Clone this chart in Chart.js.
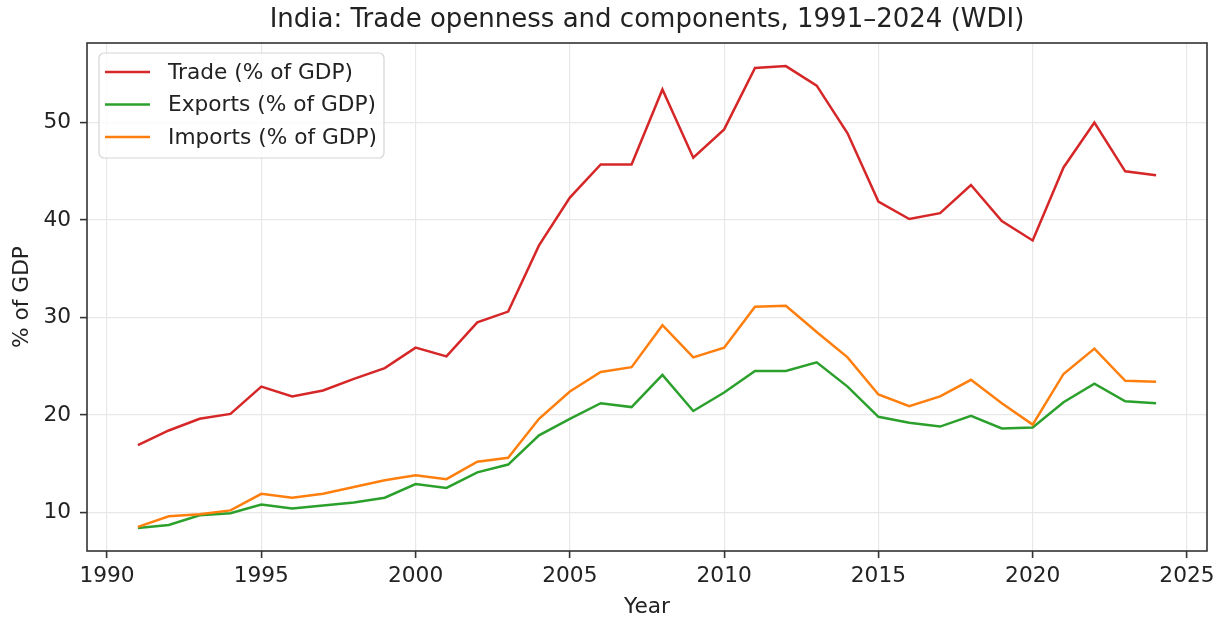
<!DOCTYPE html>
<html>
<head>
<meta charset="utf-8">
<script src="https://cdn.jsdelivr.net/npm/chart.js@4.4.1/dist/chart.umd.min.js"></script>
<style>
  html, body { margin: 0; padding: 0; background: #fff; }
  #wrap { width: 1223px; height: 621px; }
</style>
</head>
<body>
<div id="wrap"><canvas id="chart"></canvas></div>
<script>
// data (% of GDP)
const years = [1991, 1992, 1993, 1994, 1995, 1996, 1997, 1998, 1999, 2000,
               2001, 2002, 2003, 2004, 2005, 2006, 2007, 2008, 2009, 2010,
               2011, 2012, 2013, 2014, 2015, 2016, 2017, 2018, 2019, 2020,
               2021, 2022, 2023, 2024];

const trade = [16.9, 18.4, 19.6, 20.1, 22.9, 21.9, 22.5, 23.7, 24.8, 26.9,
               26.0, 29.5, 30.6, 37.4, 42.3, 45.7, 45.7, 53.4, 46.4, 49.3,
               55.6, 55.8, 53.8, 48.9, 41.9, 40.1, 40.7, 43.6, 39.9, 37.9,
               45.4, 50.0, 45.0, 44.6];

const exportsGdp = [8.4, 8.7, 9.7, 9.9, 10.8, 10.4, 10.7, 11.0, 11.5, 12.9,
                    12.5, 14.1, 14.9, 17.9, 19.6, 21.2, 20.8, 24.1, 20.4, 22.3,
                    24.5, 24.5, 25.4, 22.9, 19.8, 19.2, 18.8, 19.9, 18.6, 18.7,
                    21.3, 23.2, 21.4, 21.2];

const importsGdp = [8.5, 9.6, 9.8, 10.2, 11.9, 11.5, 11.9, 12.6, 13.3, 13.8,
                    13.4, 15.2, 15.6, 19.6, 22.4, 24.4, 24.9, 29.2, 25.9, 26.9,
                    31.1, 31.2, 28.5, 25.9, 22.1, 20.9, 21.9, 23.6, 21.2, 19.0,
                    24.2, 26.8, 23.5, 23.4];

const xTicks = [1990, 1995, 2000, 2005, 2010, 2015, 2020, 2025];
const yTicks = [10, 20, 30, 40, 50];

Chart.defaults.font.family = "'DejaVu Sans', sans-serif";
Chart.defaults.color = '#222';

function points(vals) {
    return years.map((y, i) => ({ x: y, y: vals[i] }));
}

// matplotlib-like 5% margins
const allVals = trade.concat(exportsGdp, importsGdp);
const vMin = Math.min(...allVals), vMax = Math.max(...allVals);
const yPad = (vMax - vMin) * 0.05;
const xPad = (years[years.length - 1] - years[0]) * 0.05;

// box round the plot
const frame = {
    id: 'frame',
    afterDraw(chart) {
        const { ctx, chartArea: a } = chart;
        ctx.save();
        ctx.strokeStyle = '#333';
        ctx.lineWidth = 1.6;
        ctx.strokeRect(a.left, a.top, a.right - a.left, a.bottom - a.top);
        ctx.restore();
    }
};

// legend in the upper left corner, inside the plot
const boxLegend = {
    id: 'boxLegend',
    afterDraw(chart) {
        const { ctx, chartArea: a } = chart;
        const x = a.left + 12, y = a.top + 10, w = 285, h = 105, r = 5;
        ctx.save();
        ctx.beginPath();
        ctx.roundRect(x, y, w, h, r);
        ctx.fillStyle = 'rgba(255,255,255,0.8)';
        ctx.fill();
        ctx.strokeStyle = '#d5d5d5';
        ctx.lineWidth = 1.2;
        ctx.stroke();
        ctx.font = "21.7px 'DejaVu Sans'";
        ctx.textBaseline = 'middle';
        chart.data.datasets.forEach((ds, i) => {
            const ry = a.top + 29 + i * 32.5;
            ctx.beginPath();
            ctx.moveTo(a.left + 18, ry);
            ctx.lineTo(a.left + 63, ry);
            ctx.strokeStyle = ds.borderColor;
            ctx.lineWidth = ds.borderWidth;
            ctx.stroke();
            ctx.fillStyle = '#222';
            ctx.fillText(ds.label, a.left + 81, ry + 1);
        });
        ctx.restore();
    }
};

const ctx = document.getElementById('chart').getContext('2d');
new Chart(ctx, {
    type: 'line',
    data: {
        datasets: [
            {
                label: 'Trade (% of GDP)',
                data: points(trade),
                borderColor: '#d62728',
                borderWidth: 2.5,
                order: 3
            },
            {
                label: 'Exports (% of GDP)',
                data: points(exportsGdp),
                borderColor: '#2ca02c',
                borderWidth: 2.5,
                order: 2
            },
            {
                label: 'Imports (% of GDP)',
                data: points(importsGdp),
                borderColor: '#ff7f0e',
                borderWidth: 2.5,
                order: 1
            }
        ]
    },
    options: {
        responsive: true,
        maintainAspectRatio: false,
        animation: false,
        elements: {
            point: { radius: 0 },
            line: { tension: 0, borderCapStyle: 'butt' }
        },
        layout: { padding: { left: 0, right: 16, top: 0, bottom: 0 } },
        plugins: {
            legend: { display: false },
            tooltip: { enabled: false },
            title: {
                display: true,
                fullSize: false,
                text: 'India: Trade openness and components, 1991–2024 (WDI)',
                font: { size: 26, weight: 'normal' },
                color: '#222',
                padding: { top: 5, bottom: 6.8 }
            }
        },
        scales: {
            x: {
                type: 'linear',
                min: years[0] - xPad,
                max: years[years.length - 1] + xPad,
                afterBuildTicks: (scale) => { scale.ticks = xTicks.map(v => ({ value: v })); },
                afterFit: (scale) => { scale.height = 70; },
                ticks: {
                    callback: (v) => String(v),
                    font: { size: 21.7 },
                    color: '#222',
                    padding: 5,
                    maxRotation: 0
                },
                grid: {
                    color: '#e8e8e8',
                    lineWidth: 1.2,
                    tickColor: '#333',
                    tickLength: 7,
                    tickWidth: 1.6
                },
                border: { display: false },
                title: {
                    display: true,
                    text: 'Year',
                    font: { size: 21.7 },
                    color: '#222',
                    padding: { top: 0, bottom: 1 }
                }
            },
            y: {
                min: vMin - yPad,
                max: vMax + yPad,
                afterBuildTicks: (scale) => { scale.ticks = yTicks.map(v => ({ value: v })); },
                afterFit: (scale) => { scale.width = 87; },
                ticks: {
                    font: { size: 21.7 },
                    color: '#222',
                    padding: 9
                },
                grid: {
                    color: '#e8e8e8',
                    lineWidth: 1.2,
                    tickColor: '#333',
                    tickLength: 7,
                    tickWidth: 1.6
                },
                border: { display: false },
                title: {
                    display: true,
                    text: '% of GDP',
                    font: { size: 21.7 },
                    color: '#222',
                    padding: { top: 9, bottom: 0 }
                }
            }
        }
    },
    plugins: [frame, boxLegend]
});
</script>
</body>
</html>
